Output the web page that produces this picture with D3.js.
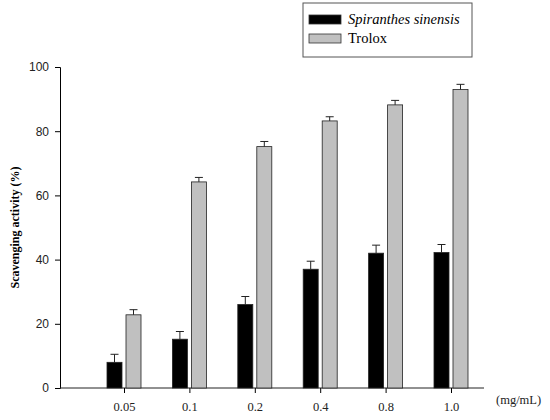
<!DOCTYPE html>
<html><head><meta charset="utf-8">
<script src="https://cdn.jsdelivr.net/npm/d3@7"></script>
<style>body{margin:0;background:#fff}</style></head>
<body><div id="chart"></div>
<script>
const categories = ["0.05", "0.1", "0.2", "0.4", "0.8", "1.0"];
const sinensis = [8, 15.2, 26, 37, 42, 42.2];
const sinensisErr = [2.5, 2.4, 2.5, 2.5, 2.5, 2.5];
const trolox = [22.8, 64.2, 75.2, 83.2, 88.2, 93];
const troloxErr = [1.6, 1.4, 1.6, 1.3, 1.4, 1.6];
const yTicks = [0, 20, 40, 60, 80, 100];

const svg = d3.select("#chart").append("svg").attr("width", 550).attr("height", 420);
const x0 = 60, x1 = 484, yTop = 67, yBot = 388;

const y = d3.scaleLinear().domain([0, 100]).range([yBot, yTop]);
const x = d3.scalePoint().domain(categories).range([124, 451]);
const bw = 15, gap = 2;

// y axis
const yAxis = d3.axisLeft(y).tickValues(yTicks).tickSizeOuter(0).tickSize(5).tickPadding(6);
const yg = svg.append("g").attr("transform", `translate(${x0},0)`).call(yAxis);
yg.selectAll("text").style("font-family", "Arial, Liberation Sans").style("font-size", "12px").attr("fill", "#222");

// x axis
svg.append("line").attr("x1", x0).attr("x2", x1).attr("y1", yBot).attr("y2", yBot).attr("stroke", "#222");
const xAxis = d3.axisBottom(x).tickSize(5).tickPadding(4).tickSizeOuter(0);
const xg = svg.append("g").attr("transform", `translate(0,${yBot})`).call(xAxis);
xg.select(".domain").remove();
xg.selectAll("text").style("font-family", "Liberation Serif, Times New Roman, serif").style("font-size", "12.5px").attr("fill", "#222").attr("dy", "1.1em");
svg.append("text").attr("x", 496).attr("y", 404).text("(mg/mL)")
  .style("font-family", "Liberation Serif, serif").style("font-size", "12.5px").attr("fill", "#222");

svg.append("text").attr("transform", "rotate(-90)").attr("x", -(yTop + yBot) / 2).attr("y", 19)
  .attr("text-anchor", "middle").text("Scavenging activity (%)")
  .style("font-family", "Liberation Serif, serif").style("font-weight", "bold").style("font-size", "12px");

function series(vals, errs, dx, fill) {
  const g = svg.append("g");
  categories.forEach((c, i) => {
    const bx = x(c) + dx;
    g.append("rect").attr("x", bx).attr("y", y(vals[i])).attr("width", bw).attr("height", yBot - y(vals[i]))
      .attr("fill", fill).attr("stroke", "#222").attr("stroke-width", 0.8);
    const cx = bx + bw / 2, top = y(vals[i] + errs[i]);
    g.append("line").attr("x1", cx).attr("x2", cx).attr("y1", y(vals[i])).attr("y2", top).attr("stroke", "#222");
    g.append("line").attr("x1", cx - 4).attr("x2", cx + 4).attr("y1", top).attr("y2", top).attr("stroke", "#222");
  });
}
series(sinensis, sinensisErr, -bw - gap, "#000");
series(trolox, troloxErr, gap, "#c0c0c0");

// legend
const lg = svg.append("g");
lg.append("rect").attr("x", 303).attr("y", 3).attr("width", 169).attr("height", 54).attr("fill", "#fff").attr("stroke", "#555");
const items = [["Spiranthes sinensis", "#000", "italic"], ["Trolox", "#c0c0c0", "normal"]];
items.forEach((d, i) => {
  lg.append("rect").attr("x", 309).attr("y", 15 + i * 19).attr("width", 32).attr("height", 9).attr("fill", d[1]).attr("stroke", "#333").attr("stroke-width", 0.8);
  lg.append("text").attr("x", 348).attr("y", 24 + i * 19).text(d[0]).style("font-style", d[2])
    .style("font-family", "Liberation Serif, serif").style("font-size", "14.5px");
});
</script></body></html>
